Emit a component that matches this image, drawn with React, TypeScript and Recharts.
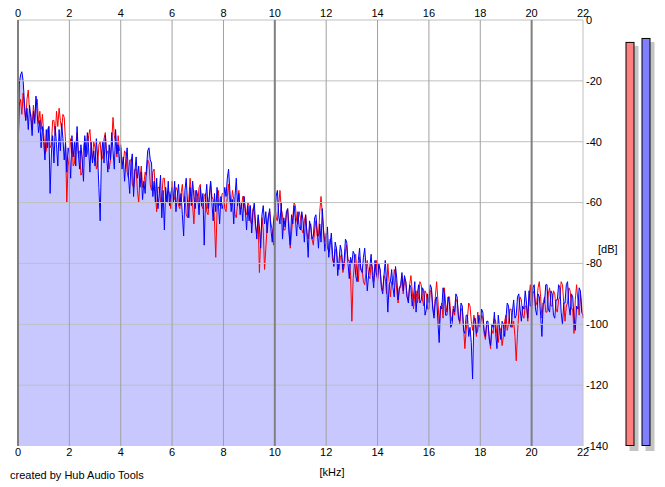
import React from 'react';
import {
  ComposedChart, Line, Area, XAxis, YAxis, ReferenceLine, BarChart, Bar, Cell,
} from 'recharts';

// Spectrum sampled every 0.05 kHz from 0 to 22 kHz (one row = 1 kHz)
const leftDb = [
  -44, -28, -26, -31, -24, -29, -33, -26, -23, -30, -31, -36, -28, -33, -27, -26, -34, -30, -36, -31,
  -37, -44, -43, -36, -35, -42, -41, -33, -33, -38, -30, -35, -29, -33, -36, -31, -32, -40, -60, -48,
  -45, -39, -40, -48, -47, -41, -37, -44, -43, -51, -50, -42, -39, -45, -44, -38, -36, -43, -46, -40,
  -42, -49, -48, -41, -40, -46, -45, -39, -37, -44, -43, -49, -46, -40, -32, -38, -40, -45, -38, -43,
  -41, -47, -47, -43, -44, -50, -52, -46, -46, -54, -55, -49, -49, -56, -60, -52, -48, -55, -54, -50,
  -51, -46, -47, -54, -56, -50, -49, -57, -63, -55, -55, -60, -58, -52, -52, -59, -60, -56, -57, -62,
  -53, -58, -59, -55, -56, -61, -62, -57, -54, -60, -58, -64, -65, -59, -52, -57, -61, -67, -56, -60,
  -60, -55, -54, -61, -62, -58, -57, -63, -64, -59, -53, -58, -59, -66, -78, -63, -56, -61, -61, -57,
  -57, -62, -63, -58, -54, -60, -61, -56, -59, -64, -65, -60, -56, -62, -62, -58, -58, -63, -64, -60,
  -61, -66, -67, -62, -63, -68, -70, -65, -83, -72, -65, -69, -82, -75, -68, -64, -63, -67, -69, -74,
  -60, -65, -66, -61, -56, -62, -64, -69, -69, -64, -62, -67, -75, -70, -65, -60, -61, -66, -67, -63,
  -65, -69, -70, -66, -64, -70, -72, -68, -67, -72, -74, -69, -66, -71, -71, -63, -58, -64, -69, -73,
  -70, -75, -76, -72, -73, -79, -80, -76, -75, -80, -82, -78, -77, -83, -81, -76, -74, -79, -79, -84,
  -99, -85, -80, -77, -84, -86, -78, -82, -82, -86, -87, -83, -79, -84, -85, -80, -81, -86, -83, -79,
  -86, -81, -82, -87, -89, -84, -85, -90, -80, -86, -91, -86, -87, -82, -84, -89, -93, -88, -88, -84,
  -90, -85, -86, -91, -92, -87, -84, -89, -95, -90, -89, -93, -91, -86, -87, -92, -94, -89, -90, -95,
  -95, -89, -89, -94, -97, -91, -86, -92, -100, -95, -93, -98, -88, -93, -96, -91, -91, -97, -99, -94,
  -97, -92, -92, -97, -100, -95, -95, -101, -108, -102, -98, -93, -94, -99, -102, -97, -99, -104, -96, -100,
  -101, -97, -98, -103, -105, -100, -100, -104, -108, -102, -103, -98, -99, -104, -106, -101, -102, -107, -104, -99,
  -97, -102, -100, -95, -95, -101, -99, -104, -112, -103, -96, -91, -92, -97, -98, -94, -94, -99, -91, -87,
  -95, -90, -89, -94, -93, -88, -86, -91, -98, -93, -91, -96, -96, -90, -88, -94, -94, -89, -90, -95,
  -96, -92, -91, -86, -87, -93, -99, -94, -93, -88, -89, -95, -95, -103, -92, -87, -92, -97, -90, -94,
  -98,
];

const rightDb = [
  -46, -21, -18, -17, -20, -27, -33, -29, -36, -28, -32, -38, -30, -34, -25, -31, -37, -33, -42, -35,
  -40, -46, -36, -42, -35, -57, -44, -38, -47, -35, -41, -48, -36, -43, -34, -39, -46, -40, -50, -42,
  -44, -52, -38, -45, -40, -48, -35, -44, -49, -41, -46, -53, -38, -45, -37, -42, -50, -40, -47, -43,
  -48, -39, -45, -55, -66, -44, -40, -47, -38, -45, -50, -41, -46, -37, -43, -49, -36, -44, -41, -47,
  -42, -49, -45, -53, -46, -42, -51, -57, -47, -44, -58, -50, -45, -52, -48, -55, -50, -59, -53, -57,
  -49, -43, -42, -46, -47, -58, -53, -60, -52, -62, -57, -51, -65, -56, -69, -55, -60, -53, -61, -57,
  -55, -60, -53, -63, -58, -54, -61, -57, -64, -71, -56, -52, -60, -65, -55, -61, -53, -58, -62, -56,
  -58, -64, -55, -61, -57, -74, -59, -54, -62, -58, -53, -60, -66, -57, -63, -55, -60, -67, -58, -62,
  -60, -55, -58, -52, -49, -56, -63, -59, -67, -58, -52, -61, -57, -64, -60, -66, -58, -62, -69, -61,
  -66, -61, -70, -63, -60, -67, -72, -64, -68, -75, -64, -61, -67, -63, -70, -65, -62, -69, -73, -66,
  -63, -58, -56, -64, -67, -60, -72, -65, -68, -63, -62, -70, -74, -64, -67, -61, -65, -71, -63, -68,
  -69, -63, -66, -73, -64, -70, -78, -66, -68, -72, -71, -65, -64, -69, -75, -67, -73, -62, -70, -76,
  -72, -68, -78, -74, -70, -77, -81, -73, -75, -84, -79, -74, -76, -82, -79, -72, -73, -80, -85, -78,
  -80, -76, -77, -84, -86, -79, -75, -82, -83, -78, -75, -81, -89, -84, -81, -77, -84, -88, -79, -83,
  -85, -80, -82, -88, -90, -84, -79, -86, -96, -87, -86, -82, -88, -91, -81, -85, -92, -88, -87, -83,
  -89, -84, -86, -91, -93, -87, -88, -94, -91, -86, -96, -90, -87, -93, -92, -88, -89, -97, -95, -90,
  -93, -87, -88, -95, -98, -92, -91, -99, -106, -94, -95, -88, -90, -97, -97, -91, -93, -101, -100, -95,
  -96, -90, -91, -98, -99, -93, -94, -102, -103, -97, -97, -104, -101, -106, -118, -99, -98, -103, -102, -97,
  -100, -95, -96, -102, -104, -99, -99, -105, -107, -100, -101, -96, -103, -108, -97, -101, -105, -99, -100, -104,
  -98, -93, -94, -100, -101, -96, -92, -98, -97, -91, -90, -95, -99, -94, -95, -89, -93, -98, -89, -94,
  -94, -88, -87, -95, -97, -90, -91, -97, -104, -93, -93, -87, -87, -95, -96, -89, -90, -97, -98, -92,
  -92, -87, -88, -96, -100, -93, -93, -87, -86, -94, -97, -90, -91, -98, -102, -94, -95, -88, -89, -96,
  -97,
];

const freqKHz = leftDb.map((_, i) => i / 20);

const xTicks = [0, 2, 4, 6, 8, 10, 12, 14, 16, 18, 20, 22];
const yTicks = [0, -20, -40, -60, -80, -100, -120, -140];
const hGrid = [0, -20, -40, -60, -80, -100, -120];

const meterNames = ['L', 'R'];
const meterLevels = [-7.2, -5.9];
const meterColors = ['#ff8080', '#8080ff'];

const spectrum = freqKHz.map((f, i) => ({ f, l: leftDb[i], r: rightDb[i] }));
const meters = meterNames.map((n, i) => ({ n, v: meterLevels[i] }));

const FONT = '"Liberation Sans", Arial, sans-serif';
const tickStyle = { fontFamily: FONT, fontSize: 11, fill: '#000' };

const vColor = (k: number) => (k === 22 ? '#c0c0c0' : k % 10 === 0 ? '#808080' : '#a0a0a0');
const vWidth = (k: number) => (k % 10 === 0 && k !== 22 ? 2 : 1);

const MeterShape = (props: any) => {
  const { x, y, width, height, fill } = props;
  return (
    <g>
      <rect x={x + 4} y={y + 4} width={width} height={height + 1} fill="#c4c4c4" />
      <rect x={x + 0.5} y={y + 0.5} width={width - 1} height={height - 1} fill={fill} stroke="#000" strokeWidth={1} />
    </g>
  );
};

export default function App() {
  return (
    <div style={{ position: 'absolute', left: 0, top: 0, width: 665, height: 487, background: '#fff' }}>
      <div style={{ position: 'absolute', left: 0, top: 0 }}>
        <ComposedChart
          width={665}
          height={487}
          data={spectrum}
          margin={{ top: 0, right: 42, bottom: 23, left: 18 }}
        >
          <XAxis
            xAxisId="top"
            orientation="top"
            type="number"
            dataKey="f"
            domain={[0, 22]}
            ticks={xTicks}
            axisLine={false}
            tickLine={false}
            tickSize={0}
            tickMargin={3}
            height={20}
            tick={tickStyle}
            interval={0}
          />
          <XAxis
            xAxisId="bottom"
            orientation="bottom"
            type="number"
            dataKey="f"
            domain={[0, 22]}
            ticks={xTicks}
            axisLine={false}
            tickLine={false}
            tickSize={0}
            tickMargin={2}
            height={18}
            tick={tickStyle}
            interval={0}
          />
          <YAxis
            orientation="right"
            type="number"
            domain={[-140, 0]}
            ticks={yTicks}
            axisLine={false}
            tickLine={false}
            tickSize={0}
            tickMargin={3}
            width={40}
            tick={tickStyle}
            interval={0}
          />
          <Area
            xAxisId="bottom"
            type="linear"
            dataKey="r"
            stroke="none"
            fill="#c8c8ff"
            fillOpacity={1}
            baseValue={-140}
            isAnimationActive={false}
            dot={false}
            activeDot={false}
          />
          <Line
            xAxisId="bottom"
            type="linear"
            dataKey="l"
            stroke="#ff0000"
            strokeWidth={1}
            dot={false}
            activeDot={false}
            isAnimationActive={false}
          />
          <Line
            xAxisId="bottom"
            type="linear"
            dataKey="r"
            stroke="#0000ff"
            strokeWidth={1}
            dot={false}
            activeDot={false}
            isAnimationActive={false}
          />
          {hGrid.map((v) => (
            <ReferenceLine key={'h' + v} xAxisId="bottom" y={v} stroke="#c0c0c0" strokeWidth={1} />
          ))}
          {xTicks.map((k) => (
            <ReferenceLine key={'v' + k} xAxisId="bottom" x={k} stroke={vColor(k)} strokeWidth={vWidth(k)} />
          ))}
        </ComposedChart>
      </div>
      <div style={{ position: 'absolute', left: 0, top: 0, pointerEvents: 'none' }}>
        <BarChart
          width={665}
          height={487}
          data={meters}
          margin={{ top: 20, right: 11.5, bottom: 41, left: 621.5 }}
          barCategoryGap={0}
        >
          <XAxis dataKey="n" hide />
          <YAxis type="number" domain={[-140, 0]} hide />
          <Bar
            dataKey={(d: any) => [-140, d.v]}
            barSize={9}
            isAnimationActive={false}
            shape={MeterShape}
          >
            {meters.map((m, i) => (
              <Cell key={m.n} fill={meterColors[i]} />
            ))}
          </Bar>
        </BarChart>
      </div>
      <svg
        width={665}
        height={487}
        style={{ position: 'absolute', left: 0, top: 0, pointerEvents: 'none' }}
      >
        <text x={332} y={476} textAnchor="middle" fontFamily={FONT} fontSize={11} fill="#000">[kHz]</text>
        <text x={598} y={253} textAnchor="start" fontFamily={FONT} fontSize={11} fill="#000">[dB]</text>
        <text x={10} y={479} textAnchor="start" fontFamily={FONT} fontSize={11} fill="#000">created by Hub Audio Tools</text>
      </svg>
    </div>
  );
}
